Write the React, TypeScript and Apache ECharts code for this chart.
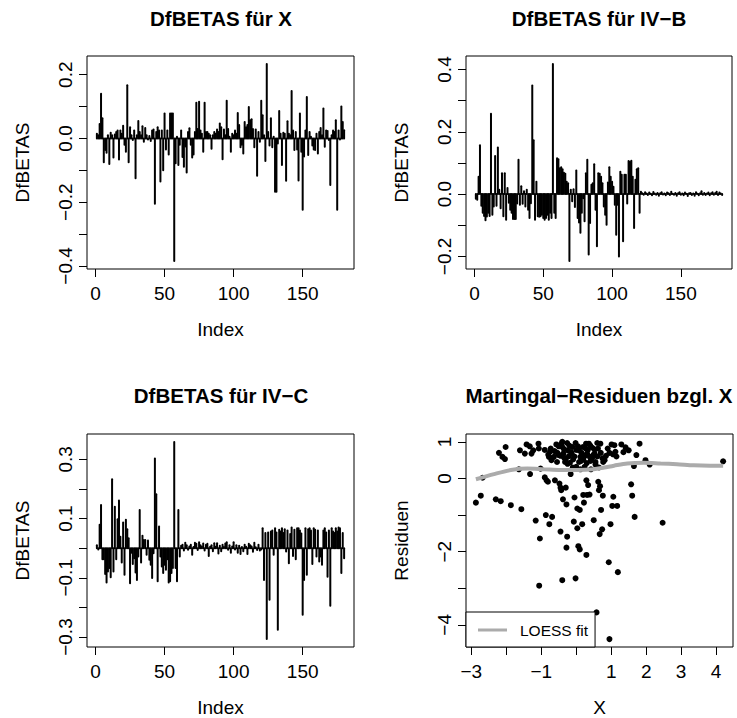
import React, { useEffect, useRef } from "react";
import * as echarts from "echarts";

const FONT = '"Liberation Sans", Arial, Helvetica, sans-serif';

// Index 1..180
const indexValues: number[] = Array.from({ length: 180 }, (_, k) => k + 1);

const dfbX: number[] = [
  0.015, 0.010, 0.045, 0.140, 0.063, -0.075, -0.036, -0.045, 0.010, -0.080,
  0.018, 0.010, -0.060, 0.012, 0.020, 0.025, -0.066, 0.025, 0.015, 0.040,
  -0.020, -0.042, 0.167, -0.075, 0.035, 0.010, -0.005, 0.025, -0.125, 0.010,
  0.055, 0.020, 0.010, 0.038, -0.010, 0.033, 0.010, -0.003, 0.008, -0.008,
  0.025, 0.028, -0.205, 0.020, 0.035, 0.025, -0.135, 0.025, -0.100, 0.078,
  -0.035, 0.025, -0.050, 0.078, 0.078, 0.078, -0.385, -0.078, 0.005, -0.083,
  -0.020, 0.025, -0.058, -0.089, -0.025, -0.107, 0.020, 0.032, -0.020, -0.060,
  -0.050, 0.020, 0.112, 0.030, 0.115, 0.025, 0.015, -0.042, 0.112, 0.020,
  0.020, 0.015, 0.010, -0.032, 0.010, 0.020, 0.015, 0.028, 0.020, 0.047,
  0.035, -0.065, 0.028, 0.010, 0.118, 0.030, 0.005, -0.042, 0.015, 0.010,
  0.025, 0.015, 0.080, 0.042, -0.028, -0.020, -0.047, 0.052, 0.035, 0.042,
  0.099, 0.057, 0.060, 0.030, -0.028, 0.028, -0.117, 0.020, -0.010, 0.118,
  0.073, 0.010, -0.071, 0.234, 0.020, -0.022, 0.063, -0.028, 0.005, -0.167,
  -0.167, -0.016, 0.086, 0.015, -0.083, 0.018, 0.015, -0.133, 0.054, 0.015,
  0.010, 0.149, 0.025, -0.036, 0.020, -0.035, -0.132, 0.078, -0.042, -0.224,
  -0.057, 0.025, 0.130, -0.052, 0.020, 0.005, -0.022, -0.035, -0.036, 0.015,
  -0.047, 0.020, 0.033, 0.010, 0.094, -0.026, 0.025, 0.023, -0.005, -0.146,
  0.010, 0.025, 0.020, 0.057, -0.224, 0.025, -0.003, 0.100, 0.052, 0.026,
];

const dfbB: number[] = [
  -0.015, -0.018, 0.056, 0.157, -0.037, -0.060, -0.070, -0.084, -0.072, -0.060,
  -0.070, 0.258, -0.066, -0.040, 0.122, -0.037, 0.150, 0.014, -0.045, 0.067,
  -0.071, 0.067, -0.082, 0.020, -0.028, -0.050, -0.060, -0.080, -0.080, -0.080,
  -0.030, 0.110, -0.034, 0.025, -0.031, 0.009, -0.040, 0.014, -0.050, -0.077,
  -0.029, 0.349, 0.173, -0.082, 0.040, -0.071, -0.073, -0.071, -0.066, -0.077,
  -0.082, -0.077, -0.066, -0.082, -0.060, -0.077, 0.418, -0.060, -0.077, 0.115,
  0.112, 0.083, 0.086, 0.080, 0.069, 0.065, 0.040, 0.035, -0.215, 0.014,
  -0.023, 0.016, -0.041, 0.076, -0.077, -0.091, -0.124, -0.060, -0.013, -0.087,
  0.067, 0.110, -0.194, -0.093, 0.030, 0.035, 0.096, -0.050, -0.167, 0.067,
  0.065, 0.056, 0.035, -0.040, -0.066, -0.098, 0.037, 0.086, 0.056, 0.040,
  0.024, -0.034, -0.130, -0.034, -0.200, 0.072, 0.062, -0.151, 0.062, 0.062,
  -0.030, 0.106, 0.104, 0.107, 0.056, -0.109, 0.046, 0.080, 0.083, -0.060,
  0.008, 0.003, -0.002, 0.006, 0.002, -0.003, 0.005, 0.001, -0.004, 0.007,
  0.002, -0.002, 0.004, -0.005, 0.003, 0.006, -0.001, 0.002, -0.004, 0.005,
  0.003, -0.003, 0.008, 0.001, -0.002, 0.004, -0.005, 0.003, 0.006, -0.002,
  0.002, -0.004, 0.005, 0.001, -0.006, 0.003, 0.004, -0.003, 0.002, -0.005,
  0.006, 0.001, -0.004, 0.003, 0.009, -0.002, 0.004, -0.003, 0.002, 0.005,
  -0.004, 0.003, 0.006, -0.002, 0.004, 0.008, -0.003, 0.005, 0.002, -0.003,
];

const dfbC: number[] = [
  0.010, -0.004, 0.079, 0.146, -0.037, -0.037, -0.087, -0.116, -0.079, -0.067,
  -0.098, 0.233, -0.079, 0.140, -0.037, 0.098, 0.161, 0.039, -0.048, 0.087,
  -0.090, 0.096, 0.064, 0.034, -0.118, -0.015, -0.053, -0.034, -0.082, -0.107,
  -0.028, 0.129, -0.048, 0.042, 0.028, 0.028, -0.022, 0.026, -0.039, -0.056,
  -0.101, -0.017, 0.303, 0.182, -0.112, 0.073, -0.028, -0.062, -0.084, -0.056,
  -0.073, -0.037, -0.116, -0.112, -0.084, -0.067, 0.359, -0.067, -0.112, 0.129,
  -0.028, 0.008, 0.012, -0.008, 0.018, 0.010, -0.005, 0.006, 0.012, -0.022,
  0.004, 0.018, 0.015, -0.006, 0.020, 0.010, 0.005, 0.016, -0.008, 0.012,
  0.015, -0.026, 0.005, 0.010, -0.010, 0.017, 0.005, 0.017, -0.018, 0.008,
  -0.010, 0.012, 0.004, 0.016, 0.020, -0.005, 0.010, -0.015, 0.006, 0.020,
  -0.004, 0.010, -0.015, 0.008, -0.020, 0.004, -0.010, 0.012, 0.005, -0.020,
  0.015, 0.010, 0.006, -0.012, 0.018, 0.003, -0.006, 0.012, -0.008, -0.004,
  0.067, -0.107, 0.051, -0.307, 0.053, -0.174, 0.056, 0.060, -0.022, 0.067,
  0.053, -0.275, 0.062, 0.056, 0.067, 0.051, 0.064, -0.011, 0.060, -0.051,
  0.048, 0.070, -0.026, 0.062, -0.037, 0.067, 0.067, 0.060, 0.050, -0.225,
  -0.107, 0.067, -0.090, 0.064, 0.067, 0.060, -0.053, 0.067, 0.062, -0.028,
  0.060, -0.045, -0.028, -0.056, 0.060, 0.067, 0.053, -0.096, 0.060, -0.194,
  0.067, 0.056, 0.051, 0.067, 0.056, 0.070, 0.067, -0.084, 0.051, -0.034,
];

const martX: number[] = [
  -2.87, -2.73, -2.68, -2.30, -2.16, -1.87, -1.57, -2.21, -2.11, -2.04,
  -2.02, -1.61, -1.64, -1.47, -1.42, -1.33, -1.28, -1.23, -1.32, -1.08,
  -1.07, -1.02, -1.16, -1.04, -1.06, -0.90, -0.87, -0.85, -0.81, -0.77,
  -0.78, -0.75, -0.73, -0.71, -0.69, -0.64, -0.61, -0.57, -0.54, -0.50,
  -0.48, -0.45, -0.45, -0.43, -0.40, -0.40, -0.38, -0.37, -0.35, -0.32,
  -0.30, -0.28, -0.28, -0.26, -0.26, -0.24, -0.21, -0.18, -0.16, -0.40,
  -0.13, -0.11, -0.09, -0.07, -0.05, -0.02, -0.02, 0.00, 0.03, 0.03,
  0.06, 0.08, 0.10, 0.10, 0.12, 0.14, 0.17, 0.19, 0.20, 0.22,
  0.24, 0.27, 0.29, 0.29, 0.31, 0.31, 0.34, 0.36, 0.38, 0.39,
  0.41, 0.46, 0.49, 0.50, 0.53, 0.55, 0.58, 0.60, 0.63, 0.65,
  0.67, 0.68, 0.69, 0.71, 0.74, 0.76, 0.77, 0.81, 0.93, 0.95,
  0.98, 1.01, 1.03, 1.05, 1.06, 1.09, 1.12, 1.17, 1.19, 1.29,
  1.41, 1.50, 1.57, 1.60, 1.65, 1.67, 1.72, 1.81, 1.98, 2.10,
  2.47, 4.20,
  -0.70, -0.62, -0.55, -0.45, -0.35, -0.30, -0.20, -0.15, -0.05, 0.05,
  0.15, 0.20, 0.25, 0.33, 0.40, 0.45, 0.52, 0.60, 0.62, 0.70,
  0.75, 0.85, 0.90, -0.50, -0.25, 0.08, 0.30, 0.55, -0.10, 0.12,
  0.42, 0.65, 1.15, 1.35, -0.80, -0.90, 0.00, 0.28, -0.42, 0.95,
];

const martRes: number[] = [
  -0.66, -0.47, 0.02, -0.57, -0.62, -0.73, -0.84, 0.70, 0.59, 0.53,
  0.86, 0.77, 0.25, 0.68, 0.93, 0.88, 0.68, 0.77, 0.12, 0.95,
  0.82, 0.27, -1.15, -1.64, -2.93, 0.03, -1.00, -0.05, -0.09, -1.25,
  0.59, 0.73, 0.82, 0.50, -1.05, 0.59, -0.05, 0.93, 0.70, 0.64,
  -0.14, -0.25, -1.45, -0.32, 1.00, 0.86, -0.57, 0.68, 0.57, 0.45,
  -0.25, -1.89, -0.71, -1.59, 0.97, 0.77, 0.61, 0.43, 0.12, -2.78,
  0.68, 0.86, 0.52, -1.18, -0.52, -2.73, 0.97, 0.32, -1.36, -0.82,
  -1.85, 0.77, -0.86, -1.94, 0.59, 0.48, -1.25, 0.86, -0.45, -0.66,
  0.32, 0.82, -2.09, -0.05, -0.45, 0.68, -0.18, 0.95, -0.44, 0.59,
  0.48, 0.84, 0.64, -1.14, 0.79, 0.45, -3.66, 0.97, -0.09, -0.32,
  -1.52, -0.21, 0.95, -0.86, -1.39, -0.47, 0.45, 0.50, -2.29, -4.39,
  -1.25, 0.93, -0.75, 0.66, -0.50, 0.91, 0.73, -0.75, -2.56, 0.93,
  0.85, 0.77, -0.16, -0.47, 0.34, -1.05, 0.64, 0.95, 0.50, 0.38,
  -1.21, 0.47,
  0.55, 0.75, 0.45, 0.62, 0.80, 0.52, 0.90, 0.72, 0.60, 0.88,
  0.70, 0.52, 0.62, 0.78, 0.90, 0.55, 0.68, 0.60, 0.82, 0.70,
  0.55, 0.62, 0.82, 0.88, 0.40, 0.45, 0.42, 0.38, 0.30, 0.25,
  0.25, 0.30, 0.60, 0.72, 0.65, 0.78, 0.78, 0.95, 0.95, 0.70,
];

const loessX: number[] = [-2.87, -2.35, -1.87, -1.40, -0.92, -0.45, 0.03, 0.5, 0.8, 1.08, 1.46, 1.93, 2.41, 2.88, 3.36, 3.83, 4.2];
const loessY: number[] = [-0.02, 0.12, 0.23, 0.27, 0.25, 0.23, 0.23, 0.25, 0.3, 0.35, 0.41, 0.43, 0.41, 0.39, 0.36, 0.35, 0.35];

const titles: string[] = ["DfBETAS für X", "DfBETAS für IV−B", "DfBETAS für IV−C", "Martingal−Residuen bzgl. X"];

const indexTicks: number[] = [0, 50, 100, 150];
const ticksX1: number[] = [-0.4, -0.3, -0.2, -0.1, 0, 0.1, 0.2];
const labelsX1: number[] = [-0.4, -0.2, 0, 0.2];
const ticksB: number[] = [-0.2, -0.1, 0, 0.1, 0.2, 0.3, 0.4];
const labelsB: number[] = [-0.2, 0, 0.2, 0.4];
const ticksC: number[] = [-0.3, -0.2, -0.1, 0, 0.1, 0.2, 0.3];
const labelsC: number[] = [-0.3, -0.1, 0.1, 0.3];
const martXTicks: number[] = [-3, -2, -1, 0, 1, 2, 3, 4];
const martXLabels: number[] = [-3, -1, 1, 2, 3, 4];
const martYTicks: number[] = [-4, -3, -2, -1, 0, 1];
const martYLabels: number[] = [-4, -2, 0, 1];

function extendRange(arr: number[]): [number, number] {
  const lo = Math.min(...arr);
  const hi = Math.max(...arr);
  const d = (hi - lo) * 0.04;
  return [lo - d, hi + d];
}

const minus = (s: string) => s.replace("-", "\u2212");
const fmt1 = (v: number) => minus(Math.abs(v) < 1e-9 ? "0.0" : v.toFixed(1));
const fmt0 = (v: number) => minus(Math.abs(v) < 1e-9 ? "0" : String(Math.round(v)));

function xAxisDef(gridIndex: number, range: [number, number], ticks: number[], labels: number[], fmt: (v: number) => string, name: string) {
  return {
    type: "value",
    gridIndex,
    position: "bottom",
    min: range[0],
    max: range[1],
    name,
    nameLocation: "middle",
    nameGap: 51,
    nameTextStyle: { fontSize: 19, color: "#000", fontFamily: FONT },
    axisLine: { show: false, onZero: false },
    axisTick: { show: true, length: 8, customValues: ticks, lineStyle: { color: "#000", width: 1 } },
    axisLabel: { customValues: labels, formatter: fmt, fontSize: 19, color: "#000", fontFamily: FONT, margin: 15 },
    splitLine: { show: false },
  };
}

function yAxisDef(gridIndex: number, range: [number, number], ticks: number[], labels: number[], fmt: (v: number) => string, name: string) {
  return {
    type: "value",
    gridIndex,
    position: "left",
    min: range[0],
    max: range[1],
    name,
    nameLocation: "middle",
    nameRotate: 90,
    nameGap: 55,
    nameTextStyle: { fontSize: 19, color: "#000", fontFamily: FONT },
    axisLine: { show: false, onZero: false },
    axisTick: { show: true, length: 8, customValues: ticks, lineStyle: { color: "#000", width: 1 } },
    axisLabel: { customValues: labels, formatter: fmt, rotate: 90, fontSize: 19, color: "#000", fontFamily: FONT, margin: 12 },
    splitLine: { show: false },
  };
}

function spikeSeries(idx: number, values: number[]) {
  return {
    type: "custom",
    xAxisIndex: idx,
    yAxisIndex: idx,
    data: indexValues.map((i, k) => [i, values[k]]),
    encode: { x: 0, y: 1 },
    renderItem: (params: any, api: any) => {
      const x = api.value(0);
      const y = api.value(1);
      const p0 = api.coord([x, 0]);
      const p1 = api.coord([x, y]);
      return {
        type: "line",
        shape: { x1: p0[0], y1: p0[1], x2: p1[0], y2: p1[1] },
        style: { stroke: "#000", lineWidth: 2, lineCap: "round" },
      };
    },
  };
}

export default function App() {
  const ref = useRef<HTMLDivElement>(null);
  useEffect(() => {
    if (!ref.current) return;
    const chart = echarts.init(ref.current, null, { renderer: "svg" });
    const idxRange = extendRange(indexValues);
    const grids = [
      { left: 87, top: 56, width: 267, height: 213 },
      { left: 466, top: 56, width: 266, height: 213 },
      { left: 87, top: 434, width: 267, height: 213 },
      { left: 466, top: 434, width: 267, height: 213 },
    ].map((g) => ({ ...g, show: true, borderColor: "#000", borderWidth: 1, backgroundColor: "transparent" }));

    const titleCenters = [221, 599, 221, 599];
    const titleTops = [8, 8, 385, 385];

    const option: any = {
      animation: false,
      backgroundColor: "#fff",
      textStyle: { fontFamily: FONT },
      title: titles.map((t, i) => ({
        text: t,
        left: titleCenters[i],
        top: titleTops[i],
        textAlign: "center",
        padding: 0,
        textStyle: { fontSize: 20.5, fontWeight: "bold", color: "#000", fontFamily: FONT },
      })),
      grid: grids,
      xAxis: [
        xAxisDef(0, idxRange, indexTicks, indexTicks, fmt0, "Index"),
        xAxisDef(1, idxRange, indexTicks, indexTicks, fmt0, "Index"),
        xAxisDef(2, idxRange, indexTicks, indexTicks, fmt0, "Index"),
        xAxisDef(3, extendRange(martX), martXTicks, martXLabels, fmt0, "X"),
      ],
      yAxis: [
        yAxisDef(0, extendRange(dfbX), ticksX1, labelsX1, fmt1, "DfBETAS"),
        yAxisDef(1, extendRange(dfbB), ticksB, labelsB, fmt1, "DfBETAS"),
        yAxisDef(2, extendRange(dfbC), ticksC, labelsC, fmt1, "DfBETAS"),
        yAxisDef(3, extendRange(martRes), martYTicks, martYLabels, fmt0, "Residuen"),
      ],
      legend: {
        data: ["LOESS fit"],
        left: 466,
        top: 612,
        orient: "vertical",
        icon: "rect",
        itemWidth: 29,
        itemHeight: 3,
        borderColor: "#000",
        borderWidth: 1,
        backgroundColor: "#fff",
        padding: [10, 7, 9, 12],
        textStyle: { fontSize: 15.5, color: "#000", fontFamily: FONT, padding: [0, 0, 0, 8] },
      },
      series: [
        spikeSeries(0, dfbX),
        spikeSeries(1, dfbB),
        spikeSeries(2, dfbC),
        {
          type: "scatter",
          name: "Residuen",
          xAxisIndex: 3,
          yAxisIndex: 3,
          symbolSize: 6,
          itemStyle: { color: "#000", opacity: 1 },
          data: martX.map((x, k) => [x, martRes[k]]),
        },
        {
          type: "line",
          name: "LOESS fit",
          xAxisIndex: 3,
          yAxisIndex: 3,
          symbol: "none",
          smooth: 0.3,
          color: "#ababab",
          lineStyle: { color: "#ababab", width: 4 },
          data: loessX.map((x, k) => [x, loessY[k]]),
        },
      ],
    };
    chart.setOption(option);
    return () => chart.dispose();
  }, []);
  return <div ref={ref} style={{ position: "fixed", left: 0, top: 0, width: 737, height: 718, background: "#fff" }} />;
}
